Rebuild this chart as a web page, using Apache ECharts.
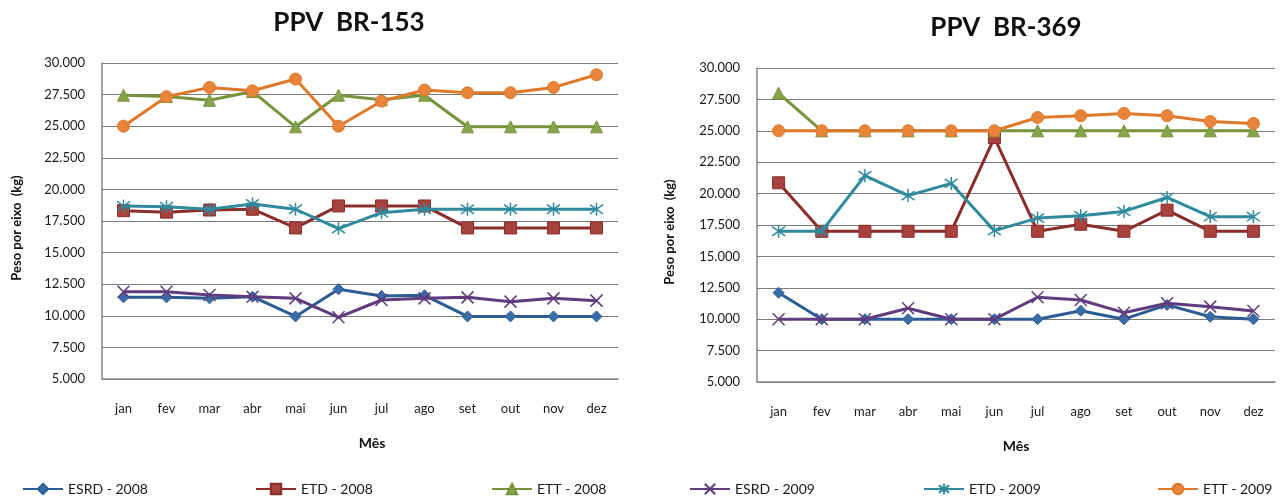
<!DOCTYPE html>
<html>
<head>
<meta charset="utf-8">
<script src="https://cdn.jsdelivr.net/npm/echarts@6/dist/echarts.min.js"></script>
<style>html,body{margin:0;padding:0;background:#fff}#c{width:1282px;height:496px}</style>
</head>
<body>
<div id="c"></div>
<script>
const months = ['jan','fev','mar','abr','mai','jun','jul','ago','set','out','nov','dez'];
const seriesNames = ['ESRD - 2008','ETD - 2008','ETT - 2008','ESRD - 2009','ETD - 2009','ETT - 2009'];

// PPV BR-153
const br153_esrd2008 = [11460,11460,11380,11510,9950,12100,11570,11620,9950,9950,9950,9950];
const br153_etd2008  = [18320,18200,18370,18430,16950,18690,18690,18690,16950,16950,16950,16950];
const br153_ett2008  = [27450,27350,27050,27750,24950,27450,27100,27450,24950,24950,24950,24950];
const br153_esrd2009 = [11910,11910,11650,11510,11380,9880,11250,11380,11460,11120,11380,11200];
const br153_etd2009  = [18690,18630,18430,18850,18430,16900,18160,18430,18430,18430,18430,18430];
const br153_ett2009  = [25000,27330,28070,27800,28730,25000,26980,27860,27650,27650,28070,29070];

// PPV BR-369
const br369_esrd2008 = [12110,10000,10000,10000,10000,10000,10000,10680,10000,11140,10200,10000];
const br369_etd2008  = [20860,17000,17000,17000,17000,24460,17000,17560,17000,18680,17000,17000];
const br369_ett2008  = [28000,25000,25000,25000,25000,25000,25000,25000,25000,25000,25000,25000];
const br369_esrd2009 = [10000,10000,10000,10870,10000,10000,11750,11530,10520,11270,11000,10660];
const br369_etd2009  = [17000,17000,21430,19840,20810,17050,18050,18240,18580,19690,18160,18160];
const br369_ett2009  = [25000,25000,25000,25000,25000,25000,26060,26200,26380,26200,25740,25580];

const yTicks = {min: 5000, max: 30000, interval: 2500};

const FONT = 'Lato, "Open Sans", sans-serif';
const colors = ['#2B5C94','#8B2D2B','#77933C','#5E3C7E','#2F8A9E','#E0782A'];
const markerFill = ['#3A6BA6','#A8423F','#86A44A','#5E3C7E','#2F8A9E','#E8853A'];
const xPath = 'path://M0,0L10,10M10,0L0,10';
const starPath = 'path://M5,0L5,10M0,1.5L10,8.5M10,1.5L0,8.5';
const symbols = ['diamond','rect','triangle',xPath,starPath,'circle'];
const symSizes = [11,12,12,12,13,12];

function mkSeries(name, idx, data, gi) {
  const isPath = idx === 3 || idx === 4;
  return {
    name: name, type: 'line', xAxisIndex: gi, yAxisIndex: gi, data: data,
    symbol: symbols[idx], symbolSize: symSizes[idx], showSymbol: true,
    lineStyle: {color: colors[idx], width: 3},
    itemStyle: isPath ? {color: colors[idx], borderColor: colors[idx], borderWidth: 1.5}
                      : {color: markerFill[idx], borderColor: colors[idx], borderWidth: 1},
    emphasis: {disabled: true}, animation: false, z: 3 + idx
  };
}

const left = [br153_esrd2008, br153_etd2008, br153_ett2008, br153_esrd2009, br153_etd2009, br153_ett2009];
const right = [br369_esrd2008, br369_etd2008, br369_ett2008, br369_esrd2009, br369_etd2009, br369_ett2009];
const series = [];
left.forEach((d,i)=>series.push(mkSeries(seriesNames[i], i, d, 0)));
right.forEach((d,i)=>series.push(mkSeries(seriesNames[i], i, d, 1)));

function xAx(gi){
  return {type:'category', gridIndex: gi, data: months, boundaryGap: true,
    axisTick:{show:false}, axisLine:{lineStyle:{color:'#868686', width:1.5}},
    axisLabel:{color:'#1a1a1a', fontSize:13, fontFamily: FONT, margin: 23}};
}
function yAx(gi){
  return {type:'value', gridIndex: gi, min: yTicks.min, max: yTicks.max, interval: yTicks.interval,
    axisLine:{show:true, lineStyle:{color:'#868686', width:1.5}}, axisTick:{show:false},
    splitLine:{lineStyle:{color:'#7a7a7a', width:1}},
    axisLabel:{color:'#1a1a1a', fontSize:13, fontFamily: FONT, margin: 17,
      formatter: v => (v/1000).toFixed(3)}};
}

const legendX = [17, 250, 486, 684, 918, 1152];
const legends = seriesNames.map((n,i)=>({
  data:[n], left: legendX[i], top: 477, itemWidth: 40, itemHeight: 13, itemGap: 4,
  textStyle:{fontSize:14, fontFamily: FONT, color:'#1a1a1a'}, selectedMode: false
}));

const option = {
  animation: false,
  title: [
    {text:'PPV  BR-153', left: 344, top: 5, textAlign:'center',
     textStyle:{fontSize:26, fontWeight:'bold', fontFamily: FONT, color:'#111'}},
    {text:'PPV  BR-369', left: 1001, top: 10, textAlign:'center',
     textStyle:{fontSize:26, fontWeight:'bold', fontFamily: FONT, color:'#111'}}
  ],
  grid: [
    {left: 102, right: 664, top: 63, bottom: 117},
    {left: 757, right: 7, top: 68, bottom: 114}
  ],
  xAxis: [xAx(0), xAx(1)],
  yAxis: [yAx(0), yAx(1)],
  legend: legends,
  graphic: [
    {type:'text', x: 372, y: 443, style:{text:'Mês', font:'bold 14px '+FONT, fill:'#111', textAlign:'center', textVerticalAlign:'middle'}},
    {type:'text', x: 1016, y: 446, style:{text:'Mês', font:'bold 14px '+FONT, fill:'#111', textAlign:'center', textVerticalAlign:'middle'}},
    {type:'text', x: 17, y: 228, rotation: Math.PI/2, style:{text:'Peso por eixo  (kg)', font:'bold 13px '+FONT, fill:'#111', textAlign:'center', textVerticalAlign:'middle'}},
    {type:'text', x: 670, y: 232, rotation: Math.PI/2, style:{text:'Peso por eixo  (kg)', font:'bold 13px '+FONT, fill:'#111', textAlign:'center', textVerticalAlign:'middle'}}
  ],
  series: series
};

const chart = echarts.init(document.getElementById('c'), null, {renderer:'canvas'});
chart.setOption(option);
</script>
</body>
</html>
